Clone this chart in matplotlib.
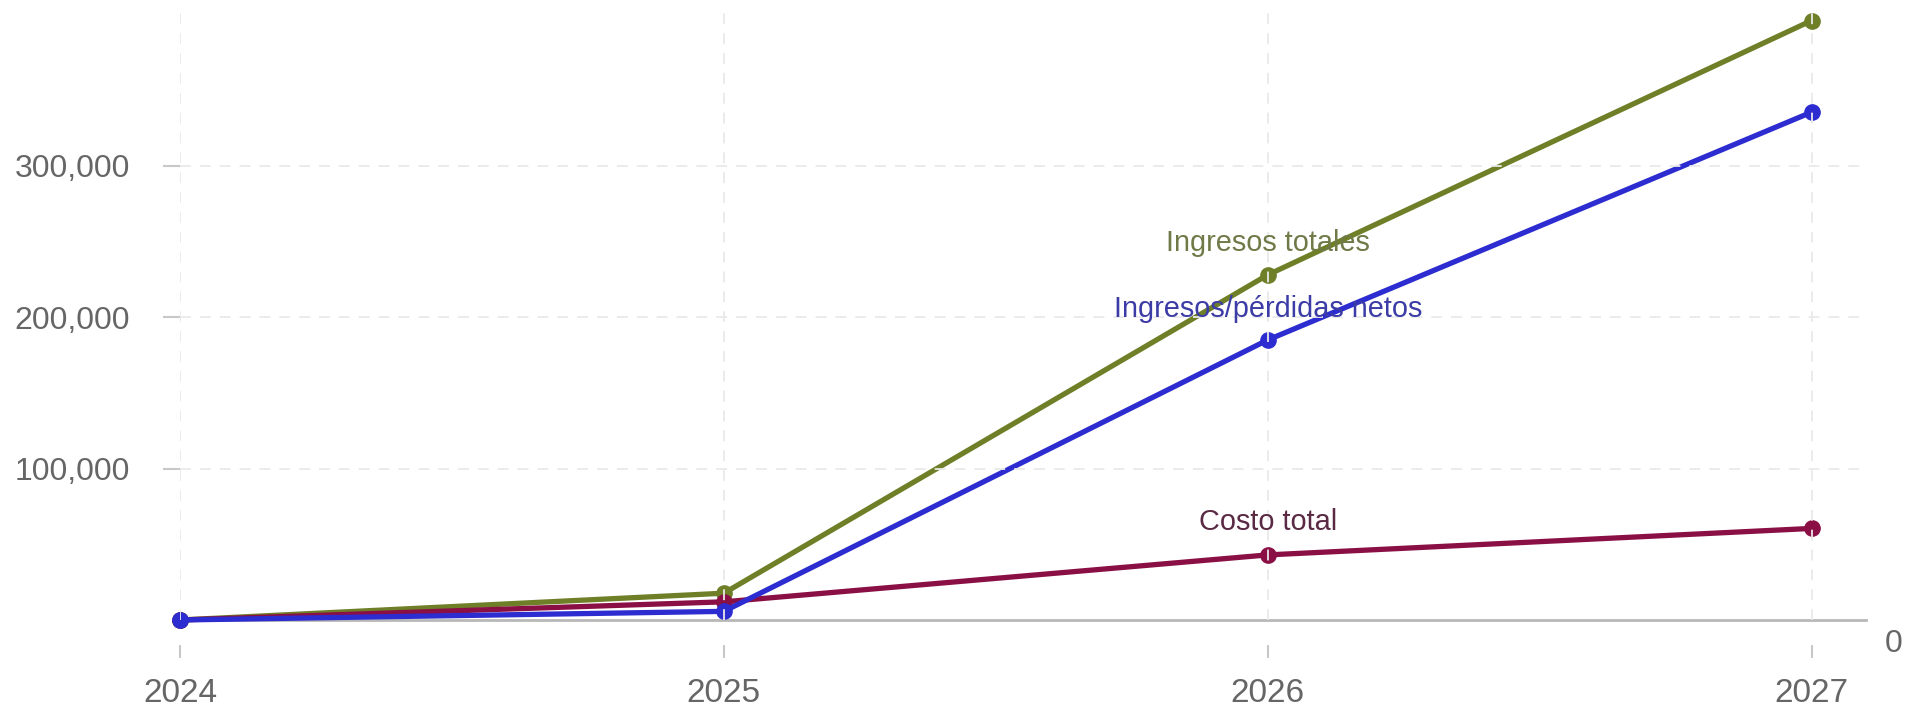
import matplotlib.pyplot as plt
from matplotlib.ticker import FuncFormatter

plt.rcParams['font.family'] = ['Liberation Sans', 'DejaVu Sans']

# ---------------- data ----------------
years = [2024, 2025, 2026, 2027]
ingresos_totales = [0, 17700, 228000, 396000]
costo_total = [0, 12000, 43000, 60500]
ingresos_netos = [0, 5700, 185000, 335500]
y_ticks = [100000, 200000, 300000]
# --------------------------------------

green = '#6e7f28'
maroon = '#8a0f45'
blue = '#2c2cd0'

fig = plt.figure(figsize=(19.15, 7.11), dpi=100)
ax = fig.add_axes([0.094, 0.128, 0.8804, 0.8537])

ax.plot(years, ingresos_totales, color=green, lw=3.8, marker='o', ms=11, zorder=2, clip_on=False)
ax.plot(years, costo_total, color=maroon, lw=3.8, marker='o', ms=11, zorder=2, clip_on=False)
ax.plot(years, ingresos_netos, color=blue, lw=3.8, marker='o', ms=11, zorder=2, clip_on=False)

# point labels above the 2026 values
ax.annotate('Ingresos totales', (years[2], ingresos_totales[2]), xytext=(0, 32),
            textcoords='offset pixels', ha='center', va='center',
            fontsize=20.8, color='#6f7a48', zorder=4)
ax.annotate('Ingresos/pérdidas netos', (years[2], ingresos_netos[2]), xytext=(0, 31),
            textcoords='offset pixels', ha='center', va='center',
            fontsize=20.8, color='#3c3ca6', zorder=4)
ax.annotate('Costo total', (years[2], costo_total[2]), xytext=(0, 33),
            textcoords='offset pixels', ha='center', va='center',
            fontsize=20.8, color='#5a2a44', zorder=4)

ax.set_xlim(2024, 2027.1)
ax.set_ylim(0, 401000)

ax.set_xticks(years)
ax.set_yticks(y_ticks)
ax.yaxis.set_major_formatter(FuncFormatter(lambda v, p: f'{int(v):,}'))

ax.set_axisbelow(False)
ax.grid(True, color='#e9e9e9', linestyle=(0, (6, 5)), linewidth=1.3)

for s in ['top', 'right', 'left']:
    ax.spines[s].set_visible(False)
ax.spines['bottom'].set_color('#b8b8b8')
ax.spines['bottom'].set_linewidth(2)
ax.spines['bottom'].set_zorder(1)

ax.tick_params(axis='y', length=12, width=1.5, color='#c8c8c8', pad=24,
               labelsize=23, labelcolor='#666666')
ax.tick_params(axis='x', length=0, pad=42, labelsize=24, labelcolor='#666666')

# detached x tick marks below the baseline
ax.vlines(years, -0.042, -0.063, transform=ax.get_xaxis_transform(),
          color='#c8c8c8', lw=1.5, clip_on=False)

# stray zero label at the right end of the baseline
ax.text(1.011, -0.04, '0', transform=ax.transAxes, ha='left', va='center',
        fontsize=23, color='#666666')

fig.savefig('out.png', dpi=100)
